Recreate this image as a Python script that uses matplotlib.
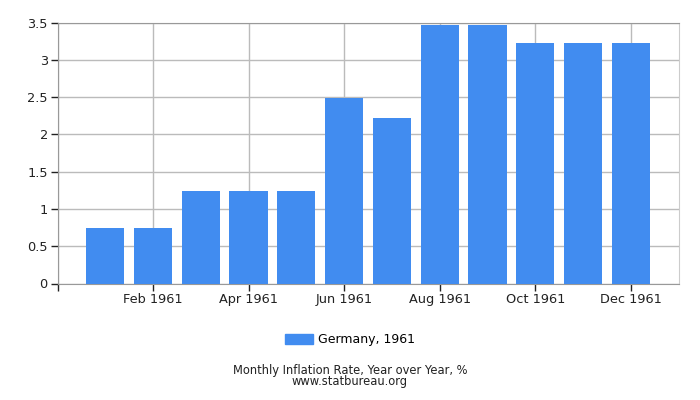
import numpy as np
import matplotlib.pyplot as plt
from matplotlib.patches import Patch

# Monthly inflation, Germany 1961
months = ["Jan 1961", "Feb 1961", "Mar 1961", "Apr 1961", "May 1961", "Jun 1961",
          "Jul 1961", "Aug 1961", "Sep 1961", "Oct 1961", "Nov 1961", "Dec 1961"]
values = [0.75, 0.75, 1.24, 1.24, 1.24, 2.49, 2.22, 3.47, 3.47, 3.22, 3.22, 3.22]
yticks = [0, 0.5, 1, 1.5, 2, 2.5, 3, 3.5]
ytick_labels = ["0", "0.5", "1", "1.5", "2", "2.5", "3", "3.5"]
bar_color = "#418CF0"

plt.rcParams["font.family"] = "DejaVu Sans"

fig = plt.figure(figsize=(7, 4), dpi=100)
ax = fig.add_axes([57.5 / 700, 1 - 283.5 / 400, 621 / 700, 261 / 400])

x = np.arange(len(months))
ax.bar(x, values, width=0.8, color=bar_color, zorder=3)

ax.set_xlim(-1, 12)
ax.set_ylim(0, 3.5)

xt = [-1] + list(x[1::2])
ax.set_xticks(xt)
ax.set_xticklabels([""] + months[1::2], fontsize=9.3, color="#222222")
ax.set_yticks(yticks)
ax.set_yticklabels(ytick_labels, fontsize=9.3, color="#222222")

ax.grid(True, color="#bbbbbb", linewidth=1, zorder=0)
ax.tick_params(axis="both", length=5, width=1, color="#222222", pad=2)

for side in ["left", "bottom"]:
    ax.spines[side].set_color("#999999")
ax.spines["top"].set_color("#999999")
ax.spines["right"].set_color("#cccccc")

fig.legend(handles=[Patch(color=bar_color, label="Germany, 1961")],
           loc="center", bbox_to_anchor=(350 / 700, 1 - 340 / 400),
           frameon=False, fontsize=9, handlelength=2.2, handleheight=0.9,
           handletextpad=0.4)

fig.text(0.5, 1 - 370.5 / 400, "Monthly Inflation Rate, Year over Year, %",
         ha="center", va="center", fontsize=8.3, color="#222222")
fig.text(0.5, 1 - 382 / 400, "www.statbureau.org",
         ha="center", va="center", fontsize=8.3, color="#222222")

plt.savefig("out.png")
plt.close()
